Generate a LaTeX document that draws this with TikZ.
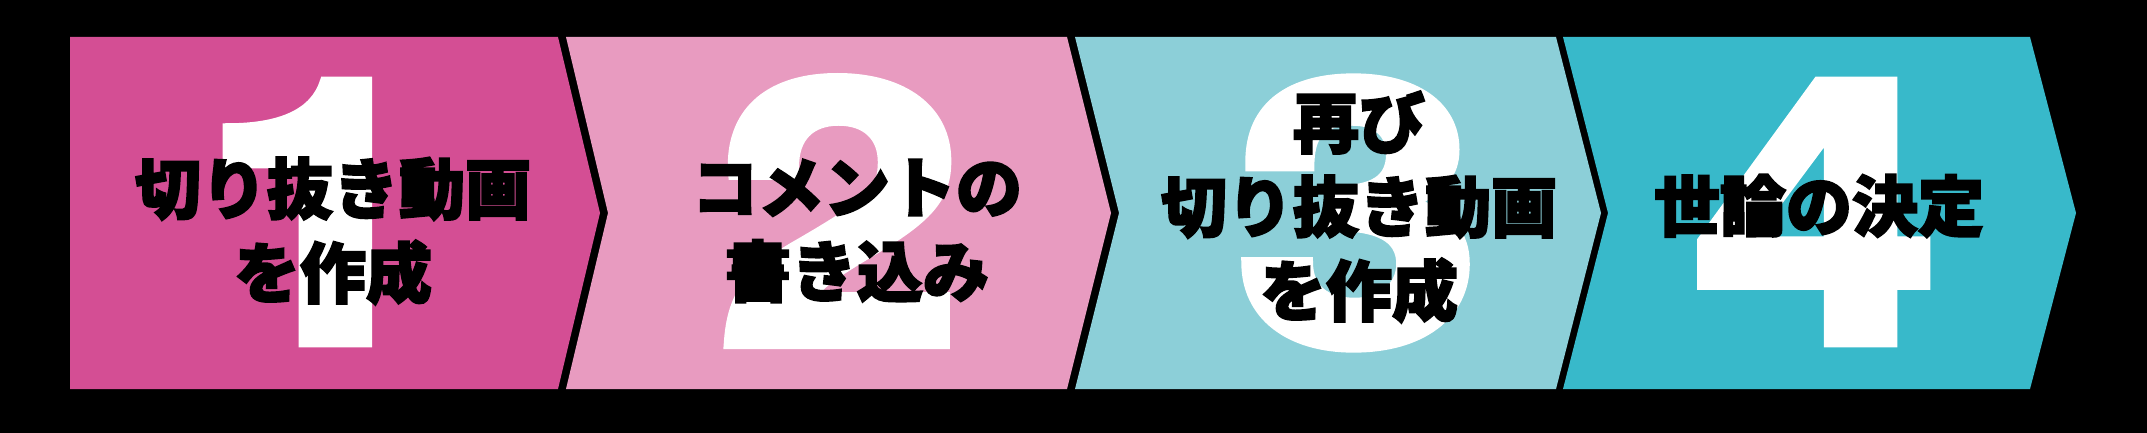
\documentclass[tikz,border=0pt]{standalone}
\usepackage{fontspec}
\usepackage{xcolor}
\usetikzlibrary{positioning}
\newfontfamily\jpfont{Noto Sans CJK JP}[BoldFeatures={FakeBold=3}]
\newfontfamily\numfont{TeX Gyre Heros}[BoldFeatures={FakeBold=3,FakeStretch=1.22}]
\definecolor{stepone}{HTML}{D44E94}
\definecolor{steptwo}{HTML}{E89BC0}
\definecolor{stepthree}{HTML}{8CCFD8}
\definecolor{stepfour}{HTML}{38B9CA}

\begin{document}
\begin{tikzpicture}[
    x = 1pt,
    y = -1pt,
    bignum/.style={inner sep=0pt, text=white, font=\numfont\bfseries\fontsize{366}{366}\selectfont},
    steptext/.style={inner sep=0pt, align=center, text=black, font=\jpfont\bfseries\fontsize{66}{84}\selectfont}
]
    \useasboundingbox (0,0) rectangle (2147,433);
    \fill[black] (0,0) rectangle (2147,433);

    % the four arrow segments
    \fill[stepone] (70,37) -- (558,37) -- (600,213) -- (558,389) -- (70,389) -- cycle;
    \fill[steptwo] (566,37) -- (1067,37) -- (1111,213) -- (1067,389) -- (566,389) -- (608,213) -- cycle;
    \fill[stepthree] (1075,37) -- (1556,37) -- (1601,213) -- (1556,389) -- (1075,389) -- (1119,213) -- cycle;
    \fill[stepfour] (1563,37) -- (2030,37) -- (2076,213) -- (2030,389) -- (1563,389) -- (1608,213) -- cycle;

    % big numbers
    \node[bignum] (num1) at (322,212) {1};
    \node[bignum] (num2) at (840,211) {2};
    \node[bignum] (num3) at (1358,213) {3};
    \node[bignum] (num4) at (1816,212) {4};

    % texts
    \node[steptext] (cut) at (333,231) {切り抜き動画\\を作成};
    \node[steptext] (comment) at (857,231) {コメントの\\書き込み};
    \node[steptext] (recut) at (1359,207) {再び\\切り抜き動画\\を作成};
    \node[steptext] (opinion) at (1819,206) {世論の決定};
\end{tikzpicture}
\end{document}
